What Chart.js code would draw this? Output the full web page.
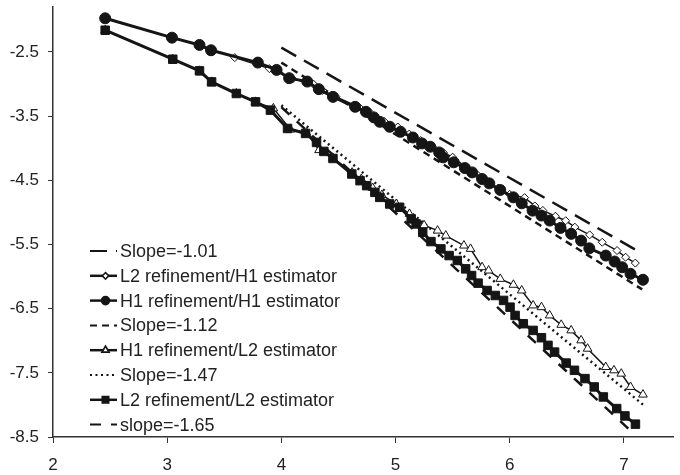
<!DOCTYPE html>
<html>
<head>
<meta charset="utf-8">
<script src="https://cdn.jsdelivr.net/npm/chart.js@4.4.1/dist/chart.umd.min.js"></script>
<style>
  html, body { margin: 0; padding: 0; background: #fff; }
  #wrap { width: 680px; height: 475px; }
</style>
</head>
<body>
<div id="wrap"><canvas id="errChart" width="680" height="475"></canvas></div>
<script>
// axis ticks
const xTicks = [2, 3, 4, 5, 6, 7];
const yTicks = [-2.5, -3.5, -4.5, -5.5, -6.5, -7.5, -8.5];

// reference slope lines
const slope101 = [[4.0, -2.433], [7.13, -5.61]];
const slope112 = [[4.0, -2.666], [7.16, -6.20]];
const slope147 = [[4.0, -3.33], [7.17, -8.0]];
const slope165 = [[4.0, -3.36], [7.10, -8.47]];

// L2 refinement / H1 estimator (open diamonds)
const l2h1 = [[2.457,-1.976],[3.042,-2.28],[3.283,-2.39],[3.592,-2.589],[3.895,-2.76],[4.1,-2.92],[4.28,-3.0],
  [4.36,-3.1],[4.48,-3.2],[4.68,-3.36],[4.78,-3.45],[4.9,-3.58],[5.02,-3.67],[5.12,-3.78],[5.22,-3.88],
  [5.33,-3.99],[5.42,-4.07],[5.5,-4.14],[5.62,-4.3],[5.72,-4.42],[5.82,-4.55],[5.9,-4.62],[6.0,-4.72],
  [6.13,-4.77],[6.22,-4.9],[6.29,-4.97],[6.4,-5.06],[6.49,-5.13],[6.57,-5.23],[6.7,-5.35],[6.81,-5.466],
  [6.94,-5.595],[7.015,-5.699],[7.10,-5.79]];

// H1 refinement / H1 estimator (filled circles)
const h1h1 = [[2.457,-1.976],[3.042,-2.278],[3.283,-2.391],[3.384,-2.474],[3.794,-2.666],[3.958,-2.78],
  [4.068,-2.909],[4.227,-2.962],[4.328,-3.08],[4.452,-3.2],[4.646,-3.355],[4.741,-3.433],[4.81,-3.52],
  [4.862,-3.589],[4.949,-3.666],[5.044,-3.744],[5.152,-3.833],[5.232,-3.926],[5.304,-3.977],[5.382,-4.066],
  [5.417,-4.143],[5.51,-4.22],[5.607,-4.309],[5.671,-4.377],[5.758,-4.48],[5.821,-4.548],[5.917,-4.651],
  [6.032,-4.766],[6.105,-4.859],[6.2,-4.973],[6.278,-5.05],[6.35,-5.128],[6.445,-5.242],[6.538,-5.335],
  [6.625,-5.44],[6.697,-5.56],[6.841,-5.673],[6.919,-5.766],[6.985,-5.855],[7.058,-5.957],[7.167,-6.05]];

// H1 refinement / L2 estimator (open triangles)
const h1l2 = [[2.457,-2.162],[3.049,-2.614],[3.283,-2.795],[3.389,-2.967],[3.606,-3.148],[3.774,-3.278],
  [3.93,-3.38],[4.08,-3.71],[4.22,-3.76],[4.33,-4.03],[4.45,-4.15],[4.62,-4.38],[4.7,-4.48],[4.8,-4.62],
  [4.88,-4.73],[5.007,-4.869],[5.122,-5.024],[5.25,-5.2],[5.368,-5.284],[5.44,-5.362],[5.599,-5.517],
  [5.657,-5.569],[5.758,-5.854],[5.815,-5.906],[5.917,-6.036],[6.032,-6.128],[6.105,-6.217],[6.205,-6.45],
  [6.278,-6.477],[6.35,-6.606],[6.451,-6.752],[6.538,-6.839],[6.625,-6.994],[6.682,-7.124],[6.841,-7.41],
  [6.913,-7.461],[6.977,-7.513],[7.058,-7.72],[7.167,-7.839]];

// L2 refinement / L2 estimator (filled squares)
const l2l2 = [[2.457,-2.162],[3.049,-2.614],[3.283,-2.795],[3.389,-2.967],[3.606,-3.148],[3.774,-3.278],
  [3.904,-3.407],[4.054,-3.693],[4.212,-3.77],[4.308,-3.91],[4.372,-4.05],[4.452,-4.16],[4.617,-4.402],
  [4.689,-4.506],[4.747,-4.584],[4.819,-4.688],[4.862,-4.766],[4.949,-4.869],[5.036,-4.921],[5.137,-5.102],
  [5.18,-5.18],[5.238,-5.31],[5.31,-5.455],[5.397,-5.569],[5.469,-5.673],[5.541,-5.75],[5.614,-5.88],
  [5.666,-5.984],[5.723,-6.103],[5.802,-6.217],[5.874,-6.295],[5.946,-6.372],[6.003,-6.477],[6.047,-6.606],
  [6.119,-6.735],[6.205,-6.839],[6.278,-6.953],[6.335,-7.072],[6.393,-7.177],[6.494,-7.348],[6.567,-7.461],
  [6.659,-7.59],[6.74,-7.72],[6.82,-7.876],[6.937,-8.057],[7.009,-8.172],[7.101,-8.30]];

const ink = '#151515';
const pts = arr => arr.map(p => ({ x: p[0], y: p[1] }));

function slopeSet(label, arr, dash) {
  return { label, data: pts(arr), showLine: true, borderColor: ink, borderWidth: 2.5,
    borderDash: dash, pointRadius: 0, order: 2 };
}

const datasets = [
  slopeSet('Slope=-1.01', slope101, [17, 9]),
  { label: 'L2 refinement/H1 estimator', data: pts(l2h1), showLine: true, borderColor: ink, borderWidth: 1.5, order: 1,
    pointStyle: 'rectRot', pointRadius: 4, pointBackgroundColor: '#fff', pointBorderColor: ink, pointBorderWidth: 1 },
  { label: 'H1 refinement/H1 estimator', data: pts(h1h1), showLine: true, borderColor: ink, borderWidth: 3, order: 0,
    pointStyle: 'circle', pointRadius: 5.5, pointBackgroundColor: ink, pointBorderColor: ink, pointBorderWidth: 1 },
  slopeSet('Slope=-1.12', slope112, [7, 5]),
  { label: 'H1 refinement/L2 estimator', data: pts(h1l2), showLine: true, borderColor: ink, borderWidth: 1.5, order: 1,
    pointStyle: 'triangle', pointRadius: 5, pointBackgroundColor: '#fff', pointBorderColor: ink, pointBorderWidth: 1 },
  slopeSet('Slope=-1.47', slope147, [2, 3.5]),
  { label: 'L2 refinement/L2 estimator', data: pts(l2l2), showLine: true, borderColor: ink, borderWidth: 3, order: 0,
    pointStyle: 'rect', pointRadius: 6, pointBackgroundColor: ink, pointBorderColor: ink, pointBorderWidth: 1 },
  slopeSet('slope=-1.65', slope165, [11, 10])
];

// legend drawn inside the plot area, lower left
const insideLegend = {
  id: 'insideLegend',
  afterDatasetsDraw(chart) {
    const ctx = chart.ctx;
    const x0 = 90, x1 = 117, tx = 120, y0 = 251, dy = 24.8;
    ctx.save();
    chart.data.datasets.forEach((ds, i) => {
      const y = y0 + i * dy;
      ctx.strokeStyle = ink;
      ctx.lineWidth = ds.pointRadius ? 2.5 : 2;
      ctx.setLineDash(ds.borderDash || []);
      ctx.beginPath();
      ctx.moveTo(x0, y);
      ctx.lineTo(x1, y);
      ctx.stroke();
      ctx.setLineDash([]);
      if (ds.pointRadius) {
        Chart.helpers.drawPoint(ctx, {
          pointStyle: ds.pointStyle, radius: ds.pointRadius * 0.65, rotation: 0, borderWidth: 1
        }, (x0 + x1) / 2 + 2, y);
        ctx.fillStyle = ds.pointBackgroundColor;
        ctx.fill();
        ctx.lineWidth = 1;
        ctx.stroke();
      }
      ctx.fillStyle = '#222';
      ctx.font = '18px "Liberation Sans", Arial, sans-serif';
      ctx.textAlign = 'left';
      ctx.textBaseline = 'middle';
      ctx.fillText(ds.label, tx, y + 1);
    });
    ctx.restore();
  }
};

const config = {
  type: 'scatter',
  data: { datasets: datasets },
  options: {
    responsive: false,
    animation: false,
    layout: { padding: { top: 6, right: 0, left: 0, bottom: 0 } },
    plugins: { legend: { display: false }, tooltip: { enabled: false } },
    scales: {
      x: {
        type: 'linear', min: 2, max: 7.43,
        afterBuildTicks: s => { s.ticks = xTicks.map(v => ({ value: v })); },
        afterFit: s => { s.height = 38; s.paddingLeft = 0; s.paddingRight = 0; },
        grid: { drawOnChartArea: false, drawTicks: true, tickLength: 6, color: '#333' },
        border: { display: true, color: '#333', width: 1.5 },
        ticks: { color: '#222', padding: 12, maxRotation: 0,
          font: { family: '"Liberation Sans", Arial, sans-serif', size: 17 } }
      },
      y: {
        type: 'linear', min: -8.5, max: -1.8,
        afterBuildTicks: s => { s.ticks = yTicks.map(v => ({ value: v })); },
        afterFit: s => { s.width = 53; s.paddingTop = 0; s.paddingBottom = 0; },
        grid: { drawOnChartArea: false, drawTicks: true, tickLength: 5, color: '#333' },
        border: { display: true, color: '#333', width: 1.5 },
        ticks: { color: '#222', padding: 9, callback: v => v.toFixed(1),
          font: { family: '"Liberation Sans", Arial, sans-serif', size: 17 } }
      }
    }
  },
  plugins: [insideLegend]
};

const errChart = new Chart(document.getElementById('errChart'), config);
</script>
</body>
</html>
